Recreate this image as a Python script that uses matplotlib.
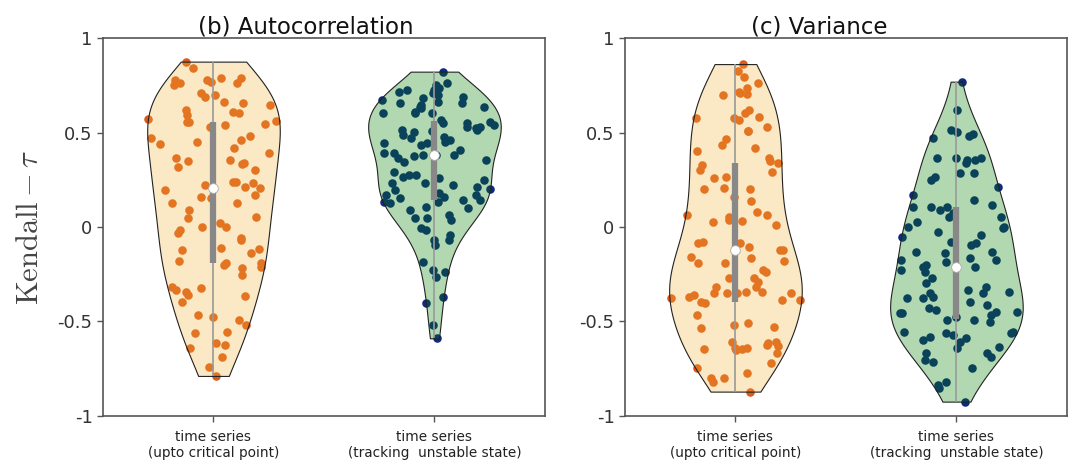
import numpy as np
import matplotlib
matplotlib.use("Agg")
import matplotlib.pyplot as plt
from matplotlib import mlab

plt.rcParams['mathtext.fontset'] = 'cm'

# Kendall tau values
ac_critical = [0.875, 0.840, 0.787, 0.787, 0.778, 0.778, 0.769, 0.764, 0.764, 0.751,
               0.707, 0.698, 0.690, 0.663, 0.654, 0.646, 0.619, 0.610, 0.601, 0.593,
               0.570, 0.563, 0.557, 0.557, 0.543, 0.540, 0.531, 0.481, 0.473, 0.460,
               0.451, 0.437, 0.416, 0.390, 0.363, 0.354, 0.349, 0.340, 0.332, 0.319,
               0.302, 0.240, 0.236, 0.231, 0.222, 0.213, 0.205, 0.196, 0.169, 0.160,
               0.152, 0.129, 0.125, 0.090, 0.055, 0.046, 0.019, 0.002, 0.002, -0.016,
               -0.034, -0.060, -0.069, -0.113, -0.118, -0.122, -0.139, -0.180, -0.192, -0.192,
               -0.201, -0.210, -0.219, -0.254, -0.316, -0.324, -0.333, -0.342, -0.360, -0.363,
               -0.395, -0.466, -0.474, -0.492, -0.519, -0.554, -0.563, -0.616, -0.624, -0.642,
               -0.686, -0.742, -0.788]
ac_unstable = [0.822, 0.760, 0.751, 0.734, 0.725, 0.725, 0.716, 0.707, 0.698, 0.690,
               0.681, 0.672, 0.663, 0.654, 0.654, 0.646, 0.637, 0.637, 0.628, 0.610,
               0.605, 0.601, 0.601, 0.566, 0.557, 0.549, 0.549, 0.540, 0.531, 0.531,
               0.522, 0.513, 0.513, 0.508, 0.504, 0.487, 0.478, 0.469, 0.460, 0.451,
               0.443, 0.443, 0.434, 0.407, 0.390, 0.390, 0.381, 0.381, 0.381, 0.376,
               0.363, 0.354, 0.346, 0.293, 0.275, 0.275, 0.266, 0.257, 0.249, 0.231,
               0.231, 0.222, 0.213, 0.199, 0.196, 0.178, 0.169, 0.169, 0.160, 0.152,
               0.143, 0.143, 0.134, 0.134, 0.125, 0.108, 0.099, 0.090, 0.063, 0.046,
               0.046, 0.037, -0.007, -0.016, -0.042, -0.069, -0.069, -0.095, -0.183, -0.228,
               -0.236, -0.263, -0.369, -0.404, -0.519, -0.589]
var_critical = [0.862, 0.827, 0.792, 0.764, 0.734, 0.716, 0.711, 0.704, 0.698, 0.619,
                0.601, 0.580, 0.575, 0.575, 0.566, 0.531, 0.510, 0.508, 0.466, 0.434,
                0.416, 0.404, 0.363, 0.349, 0.340, 0.328, 0.302, 0.293, 0.266, 0.257,
                0.205, 0.199, 0.199, 0.160, 0.139, 0.081, 0.063, 0.063, 0.055, 0.037,
                0.034, 0.028, 0.011, -0.078, -0.086, -0.086, -0.104, -0.122, -0.122, -0.157,
                -0.166, -0.178, -0.192, -0.192, -0.228, -0.236, -0.272, -0.272, -0.289, -0.316,
                -0.316, -0.342, -0.342, -0.347, -0.351, -0.351, -0.351, -0.360, -0.369, -0.377,
                -0.386, -0.386, -0.395, -0.400, -0.466, -0.510, -0.519, -0.527, -0.536, -0.607,
                -0.607, -0.616, -0.624, -0.630, -0.642, -0.642, -0.647, -0.647, -0.651, -0.668,
                -0.721, -0.748, -0.774, -0.801, -0.801, -0.818, -0.871]
var_unstable = [0.769, 0.619, 0.513, 0.504, 0.492, 0.481, 0.469, 0.363, 0.363, 0.363,
                0.354, 0.354, 0.337, 0.287, 0.284, 0.266, 0.249, 0.213, 0.169, 0.143,
                0.116, 0.108, 0.108, 0.108, 0.090, 0.072, 0.055, 0.055, 0.028, 0.002,
                0.002, -0.004, -0.025, -0.042, -0.051, -0.078, -0.086, -0.095, -0.131, -0.131,
                -0.136, -0.166, -0.175, -0.175, -0.183, -0.201, -0.210, -0.213, -0.228, -0.236,
                -0.272, -0.298, -0.316, -0.333, -0.342, -0.351, -0.351, -0.369, -0.377, -0.377,
                -0.395, -0.413, -0.430, -0.439, -0.448, -0.448, -0.453, -0.457, -0.466, -0.474,
                -0.492, -0.492, -0.501, -0.554, -0.554, -0.563, -0.563, -0.571, -0.580, -0.589,
                -0.598, -0.607, -0.633, -0.642, -0.668, -0.668, -0.686, -0.704, -0.713, -0.748,
                -0.818, -0.836, -0.854, -0.924]

panels = [("(b) Autocorrelation", [ac_critical, ac_unstable]),
          ("(c) Variance", [var_critical, var_unstable])]
tick_labels = ["time series\n(upto critical point)", "time series\n(tracking  unstable state)"]
yticks = [-1, -0.5, 0, 0.5, 1]
ytick_labels = ["-1", "-0.5", "0", "0.5", "1"]

fill_colors = ["#f5b43c", "green"]
fill_alpha = [0.3, 0.3]
dot_colors = ["#dc5a18", "#0f2a80"]

fig = plt.figure(figsize=(10.74, 4.71), dpi=100)
ax_pos = [[0.0959, 0.1168, 0.4115, 0.8025], [0.5819, 0.1168, 0.4115, 0.8025]]
title_x = [0.46, 0.44]
rng = np.random.default_rng(3)
half = 0.3

for k, (title, groups) in enumerate(panels):
    ax = fig.add_axes(ax_pos[k])
    for i, vals in enumerate(groups):
        d = np.array(vals)
        # sina-style jitter: spread proportional to the density at each value
        kde = mlab.GaussianKDE(d, 'scott')
        grid = np.linspace(d.min(), d.max(), 100)
        dmax = kde.evaluate(grid).max()
        dens = kde.evaluate(d) / dmax
        xs = i + rng.uniform(-1, 1, len(d)) * half * dens
        ax.scatter(xs, d, s=38, color=dot_colors[i], linewidths=0, zorder=1)

        parts = ax.violinplot(d, positions=[i], widths=2 * half, showextrema=False)
        for b in parts['bodies']:
            b.set_alpha(None)
            b.set_facecolor(matplotlib.colors.to_rgba(fill_colors[i], fill_alpha[i]))
            b.set_edgecolor('#222222')
            b.set_linewidth(0.8)
            b.set_zorder(2)

        q1, med, q3 = np.percentile(d, [25, 50, 75])
        ax.vlines(i, d.min(), d.max(), color='#999999', lw=1.2, zorder=3)
        ax.vlines(i, q1, q3, color='#888888', lw=4.5, zorder=4)
        ax.plot(i, med, 'o', ms=7, mfc='white', mec='#aaaaaa', mew=0.6, zorder=5)

    ax.set_xlim(-0.5, 1.5)
    ax.set_ylim(-1, 1)
    ax.set_xticks([0, 1])
    ax.set_xticklabels(tick_labels, fontsize=9.8, color='#222222')
    ax.set_yticks(yticks)
    ax.set_yticklabels(ytick_labels, fontsize=13, color='#333333')
    ax.tick_params(axis='x', pad=6)
    ax.tick_params(direction='out', length=4, color='#555555', width=1)
    for s in ax.spines.values():
        s.set_color('#555555')
        s.set_linewidth(1.2)
    ax.set_title(title, fontsize=16.5, x=title_x[k], pad=3, color='#111111')
    if k == 0:
        ax.set_ylabel(r'$\mathrm{Kendall}-\tau$', fontsize=22, color='#444444', labelpad=10)

fig.savefig("out.png", dpi=100)
